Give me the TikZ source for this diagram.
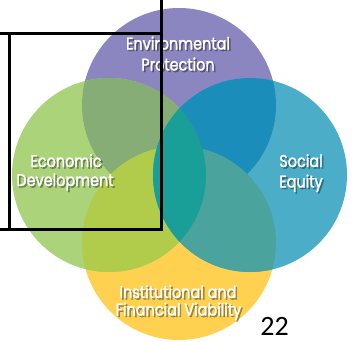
\documentclass[tikz,border=0pt]{standalone}
\usepackage{fontspec}
\setmainfont{Poppins}[FakeStretch=0.85, FakeBold=1.6]
\newfontfamily\pagenumfont{Carlito}
\usetikzlibrary{calc}

% circle colours and their overlaps
\definecolor{envP}{HTML}{8B86C0}
\definecolor{econG}{HTML}{ABD37A}
\definecolor{socB}{HTML}{4BADC8}
\definecolor{instY}{HTML}{FED250}
\definecolor{ovPG}{HTML}{87AD76}
\definecolor{ovPB}{HTML}{1A8DBA}
\definecolor{ovGY}{HTML}{B1CB4A}
\definecolor{ovBY}{HTML}{4BA39E}
\definecolor{ovGB}{HTML}{1A9E98}

% a white label with a soft dark drop shadow
\newcommand\shadowlabel[3]{%
  \node[lbl, text=black, text opacity=0.32] (#1-s) at ($(#2)+(1.6,1.6)$) {#3};
  \node[lbl, text=white] (#1) at (#2) {#3};}

\begin{document}
\begin{tikzpicture}[x=1pt, y=-1pt,
  lbl/.style={anchor=base, inner sep=0pt, text depth=0pt, font=\fontsize{17}{20}\selectfont},
  frame/.style={line width=3pt, black}]
\useasboundingbox (0,0) rectangle (355,341);
\fill[white] (0,0) rectangle (355,341);

\coordinate (cP) at (179,105);
\coordinate (cG) at (109,175);
\coordinate (cB) at (250,175);
\coordinate (cY) at (179,243);
\def\R{97pt}

% the four circles
\fill[envP]  (cP) circle[radius=\R];
\fill[instY] (cY) circle[radius=\R];
\fill[econG] (cG) circle[radius=\R];
\fill[socB]  (cB) circle[radius=\R];

% overlaps
\begin{scope}\clip (cP) circle[radius=\R]; \fill[ovPG] (cG) circle[radius=\R];\end{scope}
\begin{scope}\clip (cP) circle[radius=\R]; \fill[ovPB] (cB) circle[radius=\R];\end{scope}
\begin{scope}\clip (cY) circle[radius=\R]; \fill[ovGY] (cG) circle[radius=\R];\end{scope}
\begin{scope}\clip (cY) circle[radius=\R]; \fill[ovBY] (cB) circle[radius=\R];\end{scope}
\begin{scope}\clip (cG) circle[radius=\R]; \fill[ovGB] (cB) circle[radius=\R];\end{scope}

% labels
\coordinate (pEnv1) at (178,49.5);
\coordinate (pEnv2) at (178,70.5);
\coordinate (pEco1) at (66,167);
\coordinate (pEco2) at (65,186);
\coordinate (pSoc1) at (301,167);
\coordinate (pSoc2) at (301,187.5);
\coordinate (pIns1) at (178,298);
\coordinate (pIns2) at (178.5,315.5);
\shadowlabel{env1}{pEnv1}{Environmental}
\shadowlabel{env2}{pEnv2}{Protection}
\shadowlabel{eco1}{pEco1}{Economic}
\shadowlabel{eco2}{pEco2}{Development}
\shadowlabel{soc1}{pSoc1}{Social}
\shadowlabel{soc2}{pSoc2}{Equity}
\shadowlabel{ins1}{pIns1}{Institutional and}
\shadowlabel{ins2}{pIns2}{Financial Viability}

% page number
\node[anchor=base, inner sep=0pt, text depth=0pt, font=\pagenumfont\fontsize{28}{30}\selectfont] (pagenum) at (274.5,335.5) {22};

% black frame lines
\draw[frame] (0,33.3) -- (163.3,33.3);
\draw[frame] (0,229.5) -- (163.3,229.5);
\draw[frame] (9.7,33.3) -- (9.7,231);
\draw[frame] (161.8,0) -- (161.8,231);
\end{tikzpicture}
\end{document}
